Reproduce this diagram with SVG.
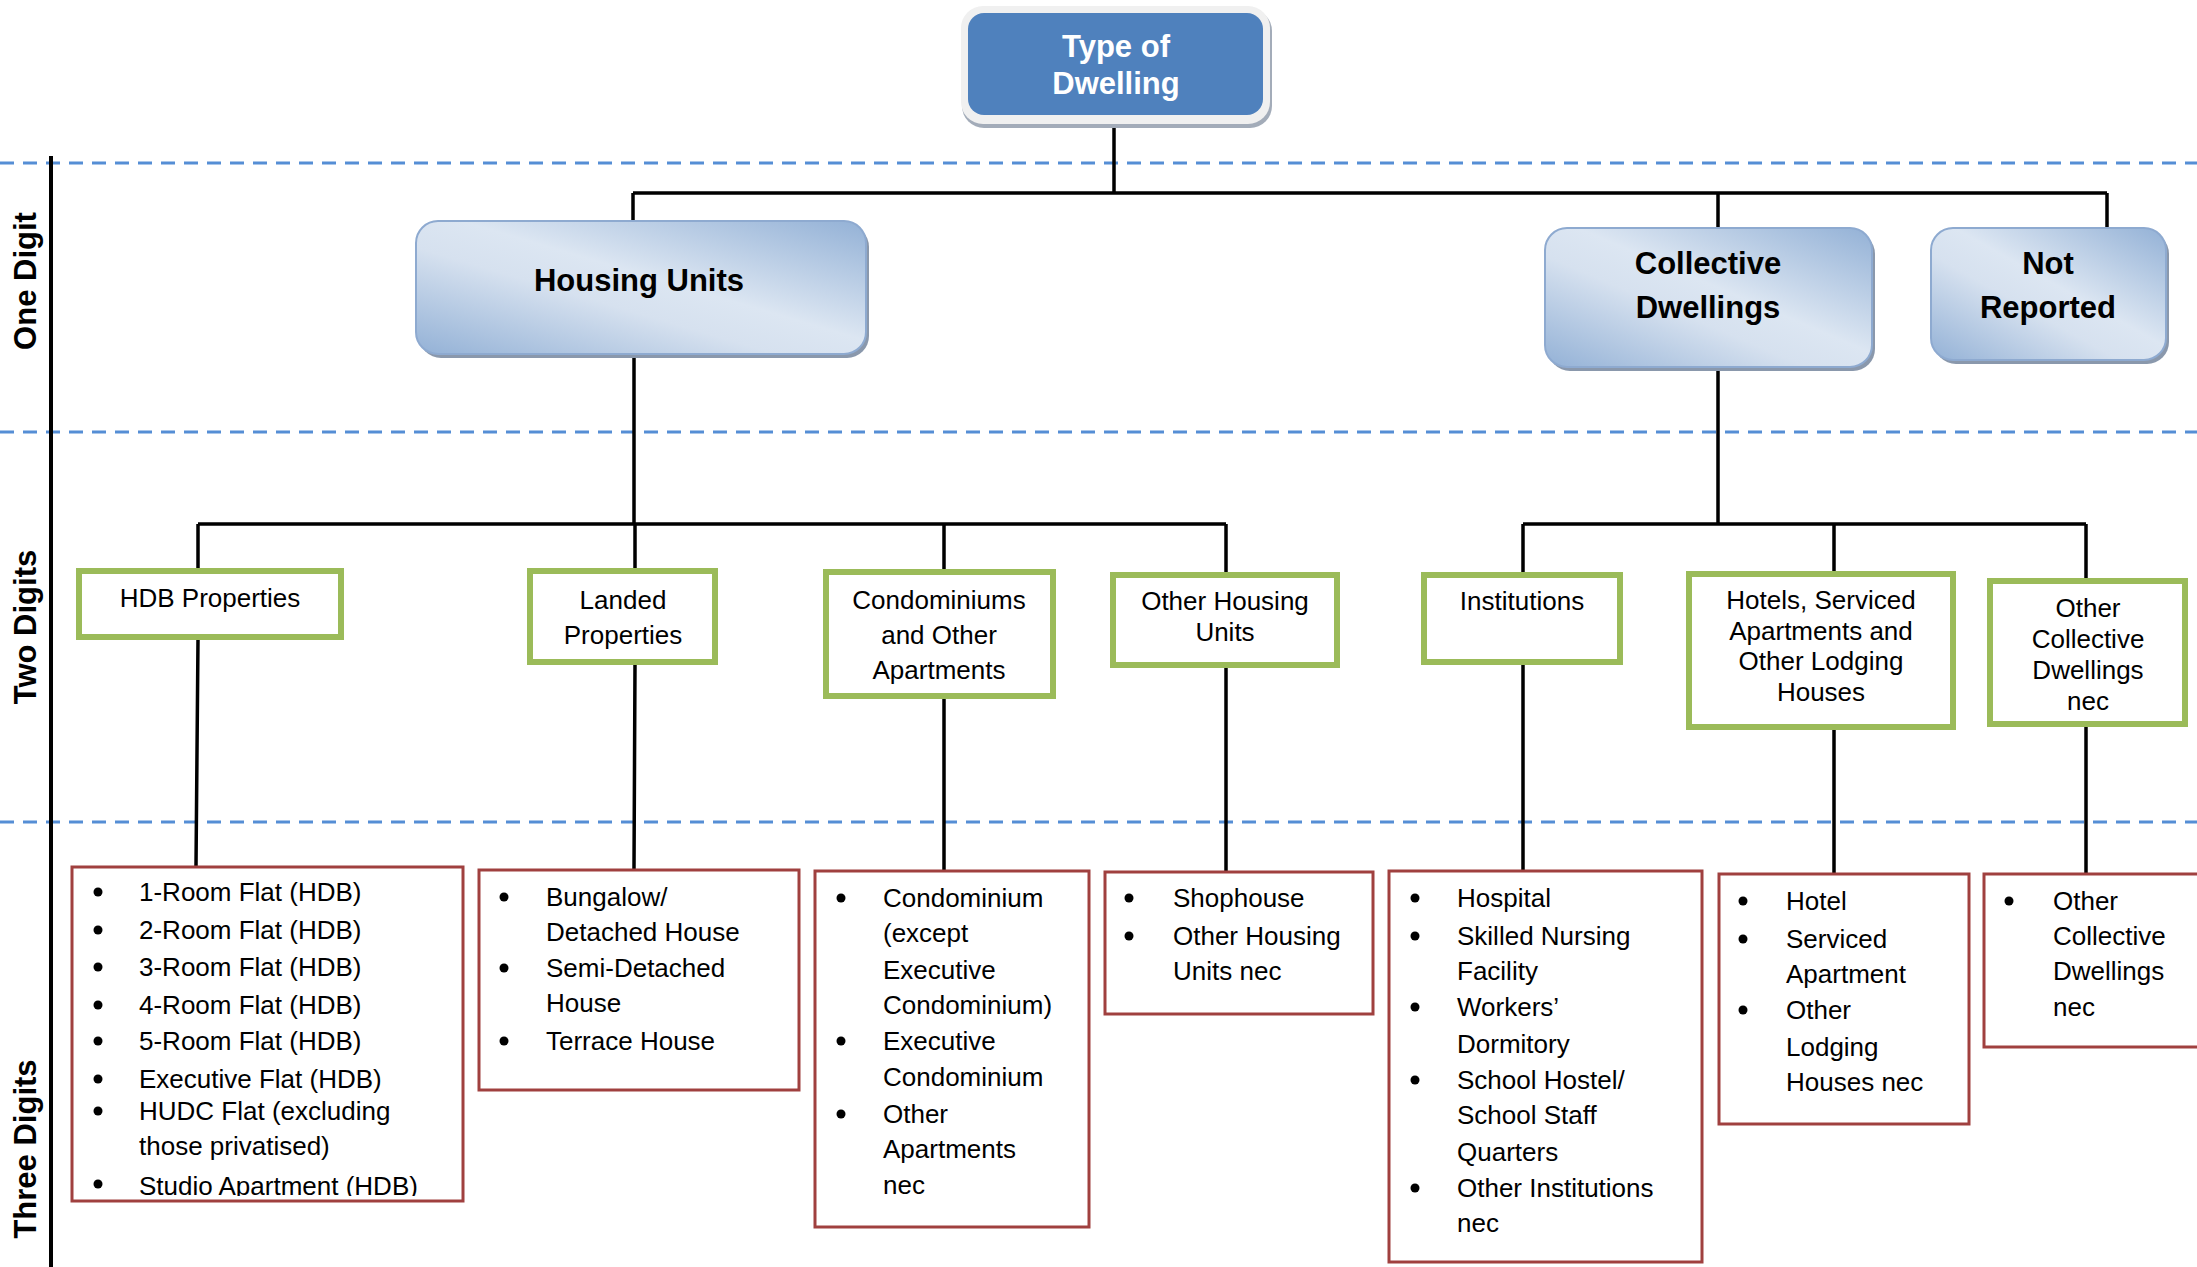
<svg xmlns="http://www.w3.org/2000/svg" width="2197" height="1267" viewBox="0 0 2197 1267">
<style>
.dash{stroke:#558ED5;stroke-width:3;stroke-dasharray:14 9;fill:none}
.conn{stroke:#000;stroke-width:3.5;fill:none}
.l1{fill:url(#g1);stroke:#8EAAD0;stroke-width:2}
.l1s{fill:#8A98AC}
.l1t{font-family:"Liberation Sans",Arial,sans-serif;font-weight:bold;font-size:31px;fill:#000;text-anchor:middle}
.l2{fill:#fff;stroke:#9BBB59;stroke-width:6}
.l2t{font-family:"Liberation Sans",Arial,sans-serif;font-size:26px;fill:#000;text-anchor:middle}
.l3{fill:#fff;stroke:#A0403F;stroke-width:3}
.l3t{font-family:"Liberation Sans",Arial,sans-serif;font-size:26px;fill:#000}
.ax{font-family:"Liberation Sans",Arial,sans-serif;font-weight:bold;font-size:31px;fill:#000;text-anchor:middle}
.b{fill:#000}
</style>
<defs>
<linearGradient id="g1" x1="1" y1="0" x2="0" y2="1">
<stop offset="0" stop-color="#93B1D6"/>
<stop offset="0.45" stop-color="#DCE6F2"/>
<stop offset="0.6" stop-color="#D6E1EF"/>
<stop offset="1" stop-color="#93B1D6"/>
</linearGradient>
<clipPath id="hdbclip"><rect x="71" y="866" width="393" height="330"/></clipPath>
</defs>
<rect width="2197" height="1267" fill="#fff"/>

<g id="guides">
<line class="dash" x1="0" y1="163" x2="2197" y2="163"/>
<line class="dash" x1="0" y1="432" x2="2197" y2="432"/>
<line class="dash" x1="0" y1="822" x2="2197" y2="822"/>
<line x1="51" y1="156" x2="51" y2="1267" stroke="#000" stroke-width="4"/>
<text class="ax" transform="translate(36,281) rotate(-90)">One Digit</text>
<text class="ax" transform="translate(36,627) rotate(-90)">Two Digits</text>
<text class="ax" transform="translate(36,1149) rotate(-90)">Three Digits</text>
</g>

<g id="connectors">
<path class="conn" d="M1114 126V193M633 193H2107M633 193V221M1718 193V228M2107 193V228"/>
<path class="conn" d="M634 354V524M198 524H1226M198 524V569M635 524V569M944 524V570M1226 524V573"/>
<path class="conn" d="M1718 367V524M1523 524H2086M1523 524V573M1834 524V572M2086 524V579"/>
<path class="conn" d="M198 639L196 866M635 664L634 869M944 698V870M1226 667V871M1523 664V870M1834 729V873M2086 726V873"/>
</g>

<g id="n-root">
<rect x="962" y="9" width="310" height="119" rx="22" fill="#A3ACB9"/>
<rect x="961" y="6" width="309" height="118" rx="22" fill="#F0F0F0"/>
<rect x="968" y="13" width="295" height="102" rx="16" fill="#4F81BD"/>
<text x="1116" y="57" font-family="Liberation Sans,Arial,sans-serif" font-weight="bold" font-size="31" fill="#fff" text-anchor="middle">Type of</text>
<text x="1116" y="94" font-family="Liberation Sans,Arial,sans-serif" font-weight="bold" font-size="31" fill="#fff" text-anchor="middle">Dwelling</text>
</g>

<g id="n-housing">
<rect class="l1s" x="419" y="225" width="450" height="133" rx="22"/>
<rect class="l1" x="416" y="221" width="450" height="133" rx="22"/>
<text class="l1t" x="639" y="291">Housing Units</text>
</g>
<g id="n-collective">
<rect class="l1s" x="1548" y="232" width="327" height="139" rx="22"/>
<rect class="l1" x="1545" y="228" width="327" height="139" rx="22"/>
<text class="l1t" x="1708" y="274">Collective</text>
<text class="l1t" x="1708" y="318">Dwellings</text>
</g>
<g id="n-notreported">
<rect class="l1s" x="1934" y="232" width="235" height="132" rx="22"/>
<rect class="l1" x="1931" y="228" width="235" height="132" rx="22"/>
<text class="l1t" x="2048" y="274">Not</text>
<text class="l1t" x="2048" y="318">Reported</text>
</g>

<g id="n-hdb">
<rect class="l2" x="79" y="571" width="262" height="66"/>
<text class="l2t" x="210" y="607">HDB Properties</text>
</g>
<g id="n-landed">
<rect class="l2" x="530" y="571" width="185" height="91"/>
<text class="l2t" x="623" y="609">Landed</text>
<text class="l2t" x="623" y="644">Properties</text>
</g>
<g id="n-condo">
<rect class="l2" x="826" y="572" width="227" height="124"/>
<text class="l2t" x="939" y="609">Condominiums</text>
<text class="l2t" x="939" y="644">and Other</text>
<text class="l2t" x="939" y="679">Apartments</text>
</g>
<g id="n-otherhousing">
<rect class="l2" x="1113" y="575" width="224" height="90"/>
<text class="l2t" x="1225" y="610">Other Housing</text>
<text class="l2t" x="1225" y="641">Units</text>
</g>
<g id="n-institutions">
<rect class="l2" x="1424" y="575" width="196" height="87"/>
<text class="l2t" x="1522" y="610">Institutions</text>
</g>
<g id="n-hotels">
<rect class="l2" x="1689" y="574" width="264" height="153"/>
<text class="l2t" x="1821" y="609">Hotels, Serviced</text>
<text class="l2t" x="1821" y="640">Apartments and</text>
<text class="l2t" x="1821" y="670">Other Lodging</text>
<text class="l2t" x="1821" y="701">Houses</text>
</g>
<g id="n-othercoll">
<rect class="l2" x="1990" y="581" width="195" height="143"/>
<text class="l2t" x="2088" y="617">Other</text>
<text class="l2t" x="2088" y="648">Collective</text>
<text class="l2t" x="2088" y="679">Dwellings</text>
<text class="l2t" x="2088" y="710">nec</text>
</g>

<g id="n-hdb-list">
<rect class="l3" x="72" y="867" width="391" height="334"/>
<g clip-path="url(#hdbclip)">
<circle class="b" cx="98" cy="892" r="4.5"/><text class="l3t" x="139" y="901">1-Room Flat (HDB)</text>
<circle class="b" cx="98" cy="930" r="4.5"/><text class="l3t" x="139" y="939">2-Room Flat (HDB)</text>
<circle class="b" cx="98" cy="967" r="4.5"/><text class="l3t" x="139" y="976">3-Room Flat (HDB)</text>
<circle class="b" cx="98" cy="1005" r="4.5"/><text class="l3t" x="139" y="1014">4-Room Flat (HDB)</text>
<circle class="b" cx="98" cy="1041" r="4.5"/><text class="l3t" x="139" y="1050">5-Room Flat (HDB)</text>
<circle class="b" cx="98" cy="1079" r="4.5"/><text class="l3t" x="139" y="1088">Executive Flat (HDB)</text>
<circle class="b" cx="98" cy="1111" r="4.5"/><text class="l3t" x="139" y="1120">HUDC Flat (excluding</text>
<text class="l3t" x="139" y="1155">those privatised)</text>
<circle class="b" cx="98" cy="1184" r="4.5"/><text class="l3t" x="139" y="1195">Studio Apartment (HDB)</text>
</g>
</g>

<g id="n-landed-list">
<rect class="l3" x="479" y="870" width="320" height="220"/>
<circle class="b" cx="504" cy="897" r="4.5"/><text class="l3t" x="546" y="906">Bungalow/</text>
<text class="l3t" x="546" y="941">Detached House</text>
<circle class="b" cx="504" cy="968" r="4.5"/><text class="l3t" x="546" y="977">Semi-Detached</text>
<text class="l3t" x="546" y="1012">House</text>
<circle class="b" cx="504" cy="1041" r="4.5"/><text class="l3t" x="546" y="1050">Terrace House</text>
</g>

<g id="n-condo-list">
<rect class="l3" x="815" y="871" width="274" height="356"/>
<circle class="b" cx="841" cy="898" r="4.5"/><text class="l3t" x="883" y="907">Condominium</text>
<text class="l3t" x="883" y="942">(except</text>
<text class="l3t" x="883" y="979">Executive</text>
<text class="l3t" x="883" y="1014">Condominium)</text>
<circle class="b" cx="841" cy="1041" r="4.5"/><text class="l3t" x="883" y="1050">Executive</text>
<text class="l3t" x="883" y="1086">Condominium</text>
<circle class="b" cx="841" cy="1114" r="4.5"/><text class="l3t" x="883" y="1123">Other</text>
<text class="l3t" x="883" y="1158">Apartments</text>
<text class="l3t" x="883" y="1194">nec</text>
</g>

<g id="n-otherhousing-list">
<rect class="l3" x="1105" y="872" width="268" height="142"/>
<circle class="b" cx="1129" cy="898" r="4.5"/><text class="l3t" x="1173" y="907">Shophouse</text>
<circle class="b" cx="1129" cy="936" r="4.5"/><text class="l3t" x="1173" y="945">Other Housing</text>
<text class="l3t" x="1173" y="980">Units nec</text>
</g>

<g id="n-institutions-list">
<rect class="l3" x="1389" y="871" width="313" height="391"/>
<circle class="b" cx="1415" cy="898" r="4.5"/><text class="l3t" x="1457" y="907">Hospital</text>
<circle class="b" cx="1415" cy="936" r="4.5"/><text class="l3t" x="1457" y="945">Skilled Nursing</text>
<text class="l3t" x="1457" y="980">Facility</text>
<circle class="b" cx="1415" cy="1007" r="4.5"/><text class="l3t" x="1457" y="1016">Workers’</text>
<text class="l3t" x="1457" y="1053">Dormitory</text>
<circle class="b" cx="1415" cy="1080" r="4.5"/><text class="l3t" x="1457" y="1089">School Hostel/</text>
<text class="l3t" x="1457" y="1124">School Staff</text>
<text class="l3t" x="1457" y="1161">Quarters</text>
<circle class="b" cx="1415" cy="1188" r="4.5"/><text class="l3t" x="1457" y="1197">Other Institutions</text>
<text class="l3t" x="1457" y="1232">nec</text>
</g>

<g id="n-hotels-list">
<rect class="l3" x="1719" y="874" width="250" height="250"/>
<circle class="b" cx="1743" cy="901" r="4.5"/><text class="l3t" x="1786" y="910">Hotel</text>
<circle class="b" cx="1743" cy="939" r="4.5"/><text class="l3t" x="1786" y="948">Serviced</text>
<text class="l3t" x="1786" y="983">Apartment</text>
<circle class="b" cx="1743" cy="1010" r="4.5"/><text class="l3t" x="1786" y="1019">Other</text>
<text class="l3t" x="1786" y="1056">Lodging</text>
<text class="l3t" x="1786" y="1091">Houses nec</text>
</g>

<g id="n-othercoll-list">
<rect class="l3" x="1984" y="874" width="215" height="173"/>
<circle class="b" cx="2009" cy="901" r="4.5"/><text class="l3t" x="2053" y="910">Other</text>
<text class="l3t" x="2053" y="945">Collective</text>
<text class="l3t" x="2053" y="980">Dwellings</text>
<text class="l3t" x="2053" y="1016">nec</text>
</g>
</svg>
